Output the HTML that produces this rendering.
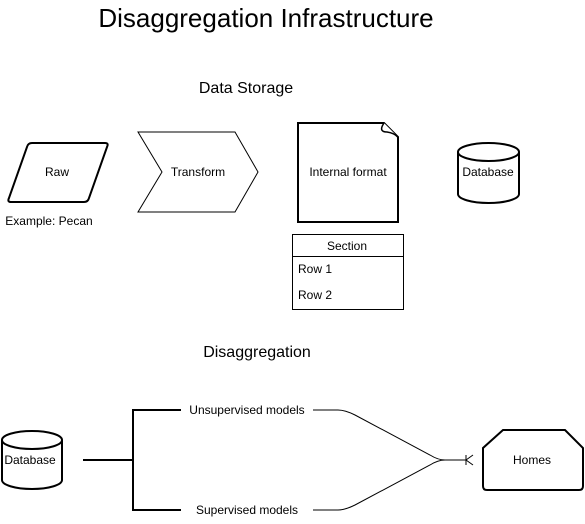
<!DOCTYPE html>
<html><head><style>
body{margin:0;background:#fff}
svg{display:block}
text{font-family:"Liberation Sans",sans-serif;fill:#000}
</style></head><body>
<svg width="585" height="524" viewBox="0 0 585 524">
<text x="266" y="27" font-size="26" text-anchor="middle">Disaggregation Infrastructure</text>
<text x="246" y="93" font-size="16" text-anchor="middle">Data Storage</text>
<text x="257" y="357" font-size="16" text-anchor="middle">Disaggregation</text>
<g fill="#fff" stroke="#000">
<path d="M32,143 L105,143 Q109,143 107,147 L89,198 Q88,202 84,202 L11,202 Q7,202 9,198 L27,147 Q28,143 32,143Z" stroke-width="2"/>
<path d="M138,132 L235,132 L258,172 L235,212 L138,212 L162,172Z" stroke-width="1"/>
<path d="M298,123 L384,123 L398,137 L398,222 L298,222Z" stroke-width="2"/>
<path d="M384,123 Q378,132 387,132 Q394,133 398,137" stroke-width="1.5"/>
<path d="M458,152 A30.5,9 0 0 1 519,152 L519,194 A30.5,9 0 0 1 458,194Z" stroke-width="2"/>
<path d="M458,152 A30.5,9 0 0 0 519,152" stroke-width="2"/>
<rect x="292.5" y="234.5" width="111" height="75" stroke-width="1"/>
<path d="M2,440 A30,9 0 0 1 62,440 L62,480 A30,9 0 0 1 2,480Z" stroke-width="2"/>
<path d="M2,440 A30,9 0 0 0 62,440" stroke-width="2"/>
<path d="M503,430 L565,430 L583,448 L583,486 Q583,490 579,490 L487,490 Q483,490 483,486 L483,448Z" stroke-width="2"/>
</g>
<line x1="292" y1="256.5" x2="404" y2="256.5" stroke="#000"/>
<g fill="none" stroke="#000">
<path d="M83,460 H133 M133,410 V511 M132,410 H181 M132,510 H181" stroke-width="2"/>
<path d="M313,410 H338 Q345,410 355,415 L430,455 Q438,460 445,460 H466" stroke-width="1"/>
<path d="M313,510 H338 Q345,510 355,505 L430,465 Q438,460 445,460" stroke-width="1"/>
<path d="M466,455 V465 M466,460 L473,455 M466,460 L473,465" stroke-width="1"/>
</g>
<g font-size="12" text-anchor="middle">
<text x="57" y="176">Raw</text>
<text x="49" y="225">Example: Pecan</text>
<text x="198" y="176">Transform</text>
<text x="348" y="176">Internal format</text>
<text x="488" y="176">Database</text>
<text x="347" y="250">Section</text>
<text x="30" y="464">Database</text>
<text x="247" y="414">Unsupervised models</text>
<text x="247" y="514">Supervised models</text>
<text x="532" y="464">Homes</text>
</g>
<g font-size="12">
<text x="298" y="273">Row 1</text>
<text x="298" y="299">Row 2</text>
</g>
</svg>
</body></html>
